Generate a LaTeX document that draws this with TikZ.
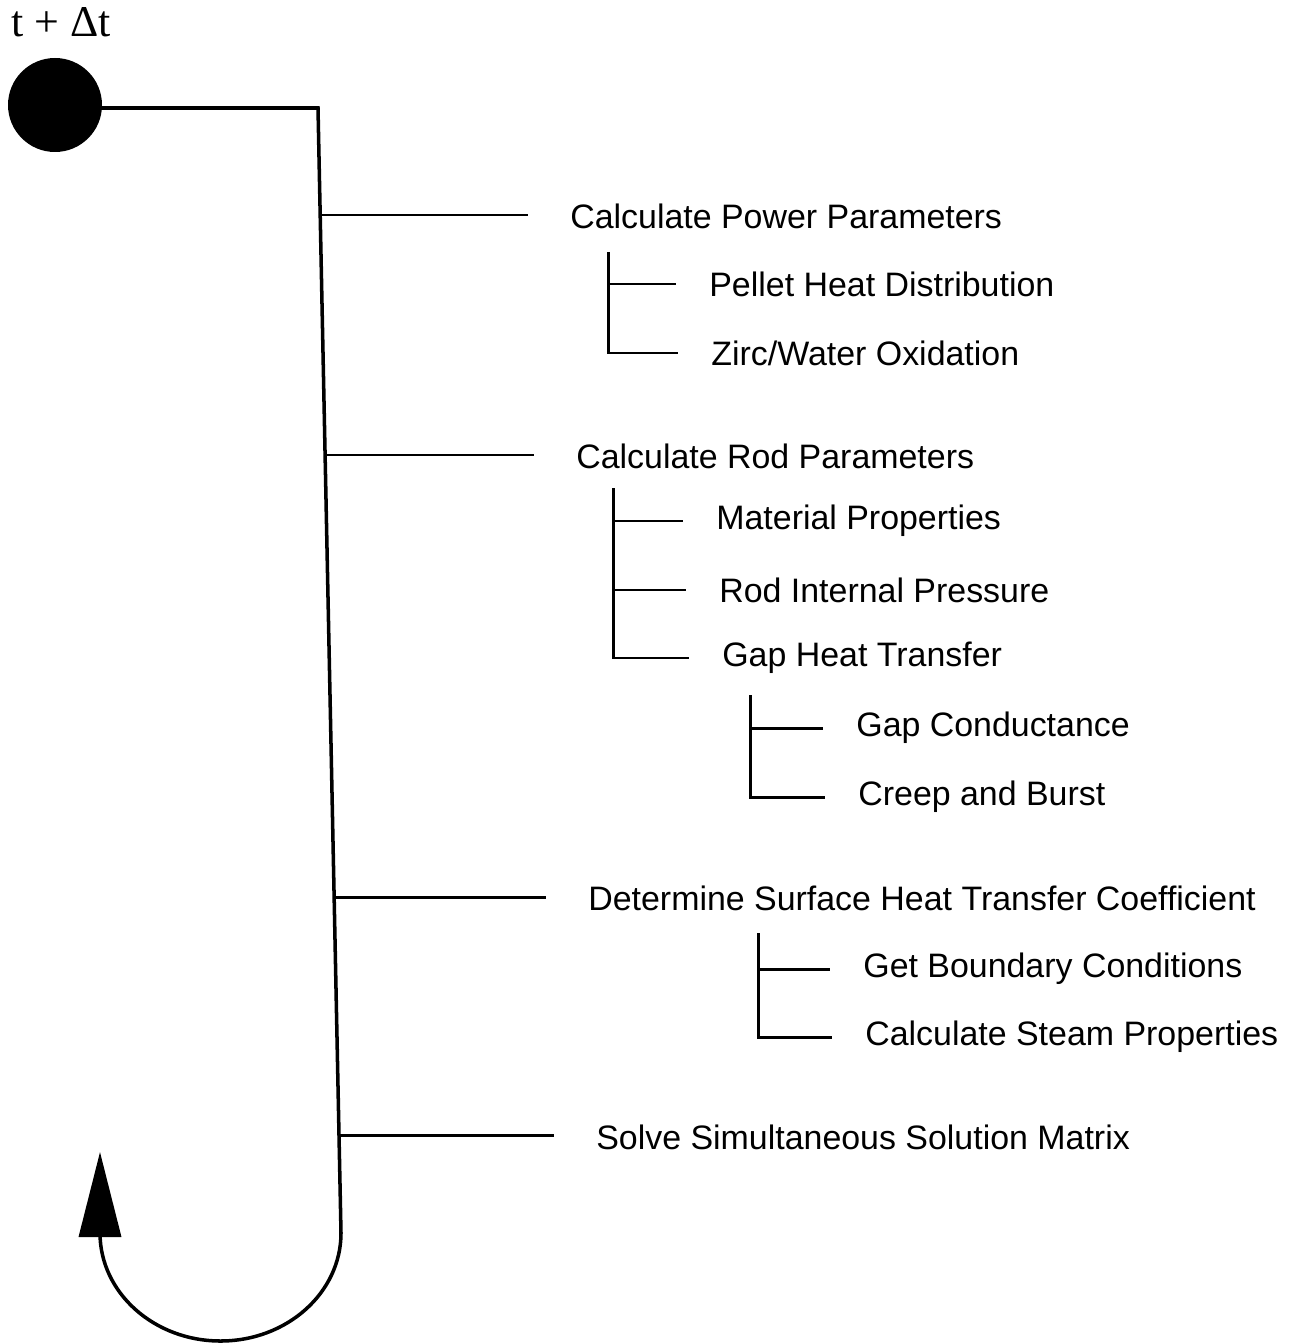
\documentclass[tikz,border=0pt]{standalone}
\usepackage{fontspec}
\setmainfont{Liberation Sans}
\newfontfamily\timesfont{Liberation Serif}
\usetikzlibrary{arrows.meta}

\begin{document}
\begin{tikzpicture}[x=2cm, y=2cm,
  lbl/.style={anchor=west, inner xsep=0.84cm, inner ysep=0pt,
              font=\fontsize{19.3}{23}\selectfont},
  sub/.style={lbl, inner xsep=0.66cm},
  spine/.style={line width=2pt},
  wire/.style={line width=1.7pt}
]
\useasboundingbox (0,0) rectangle (12.91,-13.44);

% time step marker
\node[anchor=north west, inner sep=0pt, font=\timesfont\fontsize{25}{28}\selectfont]
  (tstep) at (0.11,-0.07) {t + Δt};
\node[circle, fill, minimum size=1.88cm, inner sep=0pt] (start) at (0.55,-1.05) {};

\coordinate (top) at (3.18,-1.08);
\coordinate (bot) at (3.41,-12.33);

% main loop
\draw[spine, -{Triangle[length=1.7cm, width=0.84cm]}]
  (start |- top) -- (top) -- (bot)
  arc[start angle=0, end angle=-180, x radius=1.205, y radius=1.08]
  -- (1.00,-11.52);

% junctions on the main line
\coordinate (jpow)  at (3.20,-2.15);
\coordinate (jrod)  at (3.25,-4.55);
\coordinate (jsurf) at (3.34,-8.97);
\coordinate (jsol)  at (3.39,-11.35);

\node[lbl] (pow)  at (5.28,-2.16)  {Calculate Power Parameters};
\node[lbl] (rod)  at (5.34,-4.56)  {Calculate Rod Parameters};
\node[lbl] (surf) at (5.46,-8.98)  {Determine Surface Heat Transfer Coefficient};
\node[lbl] (sol)  at (5.54,-11.37) {Solve Simultaneous Solution Matrix};

\draw[wire] (jpow) -- (jpow -| pow.west);
\draw[wire] (jrod) -- (jrod -| rod.west);
\draw[wire] (jsurf) -- (jsurf -| surf.west);
\draw[wire] (jsol) -- (jsol -| sol.west);

% power parameters
\coordinate (bpow) at (6.08,-2.52);
\node[sub] (pellet) at (6.76,-2.84) {Pellet Heat Distribution};
\node[sub] (zirc)   at (6.78,-3.53) {Zirc/Water Oxidation};
\draw[wire] (bpow) |- (zirc.west);
\draw[wire] (bpow |- pellet.west) -- (pellet.west);

% rod parameters
\coordinate (brod) at (6.13,-4.88);
\node[sub] (mat) at (6.83,-5.21) {Material Properties};
\node[sub] (rip) at (6.86,-5.90) {Rod Internal Pressure};
\node[sub] (gap) at (6.89,-6.58) {Gap Heat Transfer};
\draw[wire] (brod) |- (gap.west);
\draw[wire] (brod |- mat.west) -- (mat.west);
\draw[wire] (brod |- rip.west) -- (rip.west);

% gap heat transfer
\coordinate (bgap) at (7.50,-6.95);
\node[sub] (gcond) at (8.23,-7.28) {Gap Conductance};
\node[sub] (creep) at (8.25,-7.97) {Creep and Burst};
\draw[wire] (bgap) |- (creep.west);
\draw[wire] (bgap |- gcond.west) -- (gcond.west);

% surface heat transfer
\coordinate (bsurf) at (7.58,-9.33);
\node[sub] (bound) at (8.30,-9.69)  {Get Boundary Conditions};
\node[sub] (steam) at (8.32,-10.37) {Calculate Steam Properties};
\draw[wire] (bsurf) |- (steam.west);
\draw[wire] (bsurf |- bound.west) -- (bound.west);
\end{tikzpicture}
\end{document}
